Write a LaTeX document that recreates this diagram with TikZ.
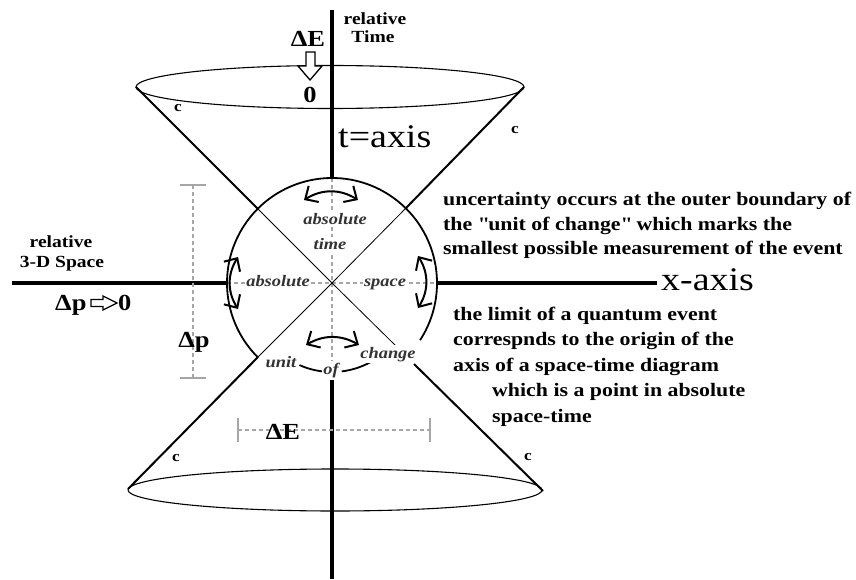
\documentclass[tikz,border=0pt]{standalone}
\usepackage{fontspec}
\setmainfont{Liberation Serif}[FakeStretch=1.15]
\usetikzlibrary{arrows.meta}
\tikzset{
  axisline/.style={line width=3.5pt},
  coneline/.style={line width=2pt},
  rimline/.style={line width=1.1pt},
  thinline/.style={line width=0.8pt},
  guide/.style={gray!70, line width=1.1pt, dash pattern=on 4pt off 3pt},
  guidetick/.style={gray!70, line width=1.1pt},
  ring/.style={line width=1.8pt},
  swing/.style={line width=2pt, {Straight Barb[length=10pt,width=19pt,line width=2pt]}-{Straight Barb[length=10pt,width=19pt,line width=2pt]}},
  hollow/.style={draw, line width=1.3pt, fill=white, line join=miter},
  big/.style={inner sep=0pt, font=\fontsize{33}{33}\selectfont},
  mid/.style={inner sep=0pt, font=\fontsize{23}{23}\selectfont\bfseries},
  small/.style={inner sep=0pt, font=\fontsize{17}{17}\selectfont\bfseries},
  cee/.style={inner sep=0pt, font=\fontsize{15}{15}\selectfont\bfseries},
  inlbl/.style={inner sep=1.5pt, fill=white, text=black!80, font=\fontsize{16}{16}\selectfont\bfseries\itshape},
  para/.style={anchor=base west, inner sep=0pt, font=\fontsize{19}{24}\selectfont\bfseries},
}
\begin{document}
\begin{tikzpicture}[x=1pt,y=1pt]
\useasboundingbox (0,0) rectangle (856,579);
% key points
\coordinate (O) at (332,296);
\coordinate (tTop) at (332,569);
\coordinate (tHi) at (332,401);
\coordinate (tLo) at (332,199);
\coordinate (tBot) at (332,0);
\coordinate (xL) at (12,296);
\coordinate (xLi) at (227,296);
\coordinate (xRi) at (437,296);
\coordinate (xR) at (657,296);
\coordinate (TL) at (136,492);
\coordinate (TR) at (524,492);
\coordinate (BL) at (128,90);
\coordinate (BR) at (543,88);
\coordinate (cTL) at (258,370);
\coordinate (cTR) at (406,371);
\coordinate (cBL) at (258,222);
\coordinate (cBRin) at (396,233);
\coordinate (cBRout) at (414,215);

% guides inside the circle
\draw[guide] (tHi) -- (tLo);
\draw[guide] (xLi) -- (xRi);

% axes
\draw[axisline] (tTop) -- (tHi);
\draw[axisline] (tLo) -- (tBot);
\draw[axisline] (xL) -- (xLi);
\draw[axisline] (xRi) -- (xR);

% cones
\draw[rimline] (330,492) ellipse [x radius=194, y radius=21.5];
\draw[rimline] (335,89) ellipse [x radius=207, y radius=21];
\draw[coneline] (TL) -- (cTL);
\draw[coneline] (TR) -- (cTR);
\draw[coneline] (BL) -- (cBL);
\draw[coneline] (BR) -- (cBRout);
\draw[thinline] (cTL) -- (O) -- (cBRin);
\draw[thinline] (cTR) -- (O) -- (cBL);

% unit of change circle
\draw[ring] (O) ++(-33:105) arc[start angle=-33, end angle=225, radius=105];
\draw[ring] (332,287) ++(246:80) arc[start angle=246, end angle=263.5, radius=80];
\draw[ring] (332,287) ++(277:80) arc[start angle=277, end angle=302, radius=80];

% swinging arrows
\coordinate (aT1) at (304,379); \coordinate (aT2) at (358,379);
\coordinate (aL1) at (238,322); \coordinate (aL2) at (238,270);
\coordinate (aR1) at (418,323); \coordinate (aR2) at (418,271);
\coordinate (aB1) at (306,234); \coordinate (aB2) at (359,234);
\draw[swing] (aT1) to[bend left=32] (aT2);
\draw[swing] (aL1) to[bend right=32] (aL2);
\draw[swing] (aR1) to[bend left=32] (aR2);
\draw[swing] (aB1) to[bend left=30] (aB2);

% inner labels
\node[inlbl, anchor=base] (abst) at (335,354) {absolute};
\node[inlbl, anchor=base] (time) at (330,329) {time};
\node[inlbl, anchor=base] (absl) at (278,292) {absolute};
\node[inlbl, anchor=base] (spc) at (385,292) {space};
\node[inlbl, anchor=base] (unit) at (281,212) {unit};
\node[inlbl, anchor=base] (of) at (331,205) {of};
\node[inlbl, anchor=base] (chg) at (388,221) {change};

% delta guides
\draw[guide] (193,394) -- (193,201);
\draw[guidetick] (180,394) -- (206,394);
\draw[guidetick] (180,201) -- (206,201);
\draw[guide] (238,149) -- (430,149);
\draw[guidetick] (238,137) -- (238,161);
\draw[guidetick] (430,137) -- (430,161);
\node[mid] (dp) at (194,237) {Δp};
\node[mid] (dE) at (283,147) {ΔE};

% top labels
\node[small, anchor=base] (rel1) at (375,554) {relative};
\node[small, anchor=base] (tim) at (373,536) {Time};
\node[mid, anchor=base] (dEtop) at (308,532) {ΔE};
\draw[hollow] (306,527) -- (315,527) -- (315,513) -- (322,513) -- (310,499) -- (298,513) -- (306,513) -- cycle;
\node[mid, anchor=base] (zero) at (310,476) {0};
\node[big, anchor=base west] (taxis) at (338,431) {t=axis};
\node[big, anchor=base west] (xaxis) at (661,289) {x-axis};

% left labels
\node[small, anchor=base] (rel2) at (61,331) {relative};
\node[small, anchor=base] (spc3) at (62,311) {3-D Space};
\node[mid, anchor=base west] (dpl) at (55,269) {Δp};
\draw[hollow] (91,279.5) -- (103,279.5) -- (103,283) -- (117,276) -- (103,269) -- (103,272.5) -- (91,272.5) -- cycle;
\node[mid, anchor=base west] (zl) at (118,269) {0};

% c labels
\node[cee] (c1) at (178,471) {c};
\node[cee] (c2) at (515,449) {c};
\node[cee] (c3) at (176,121) {c};
\node[cee] (c4) at (528,122) {c};

% right paragraphs
\node[para] (p1a) at (443,373) {uncertainty occurs at the outer boundary of};
\node[para] (p1b) at (443,348.5) {the \textquotedbl unit of change\textquotedbl{} which marks the};
\node[para] (p1c) at (443,324) {smallest possible measurement of the event};
\node[para] (p2a) at (453,259) {the limit of a quantum event};
\node[para] (p2b) at (453,233.5) {correspnds to the origin of the};
\node[para] (p2c) at (453,208) {axis of a space-time diagram};
\node[para] (p2d) at (492,182.5) {which is a point in absolute};
\node[para] (p2e) at (492,157) {space-time};
\end{tikzpicture}
\end{document}
